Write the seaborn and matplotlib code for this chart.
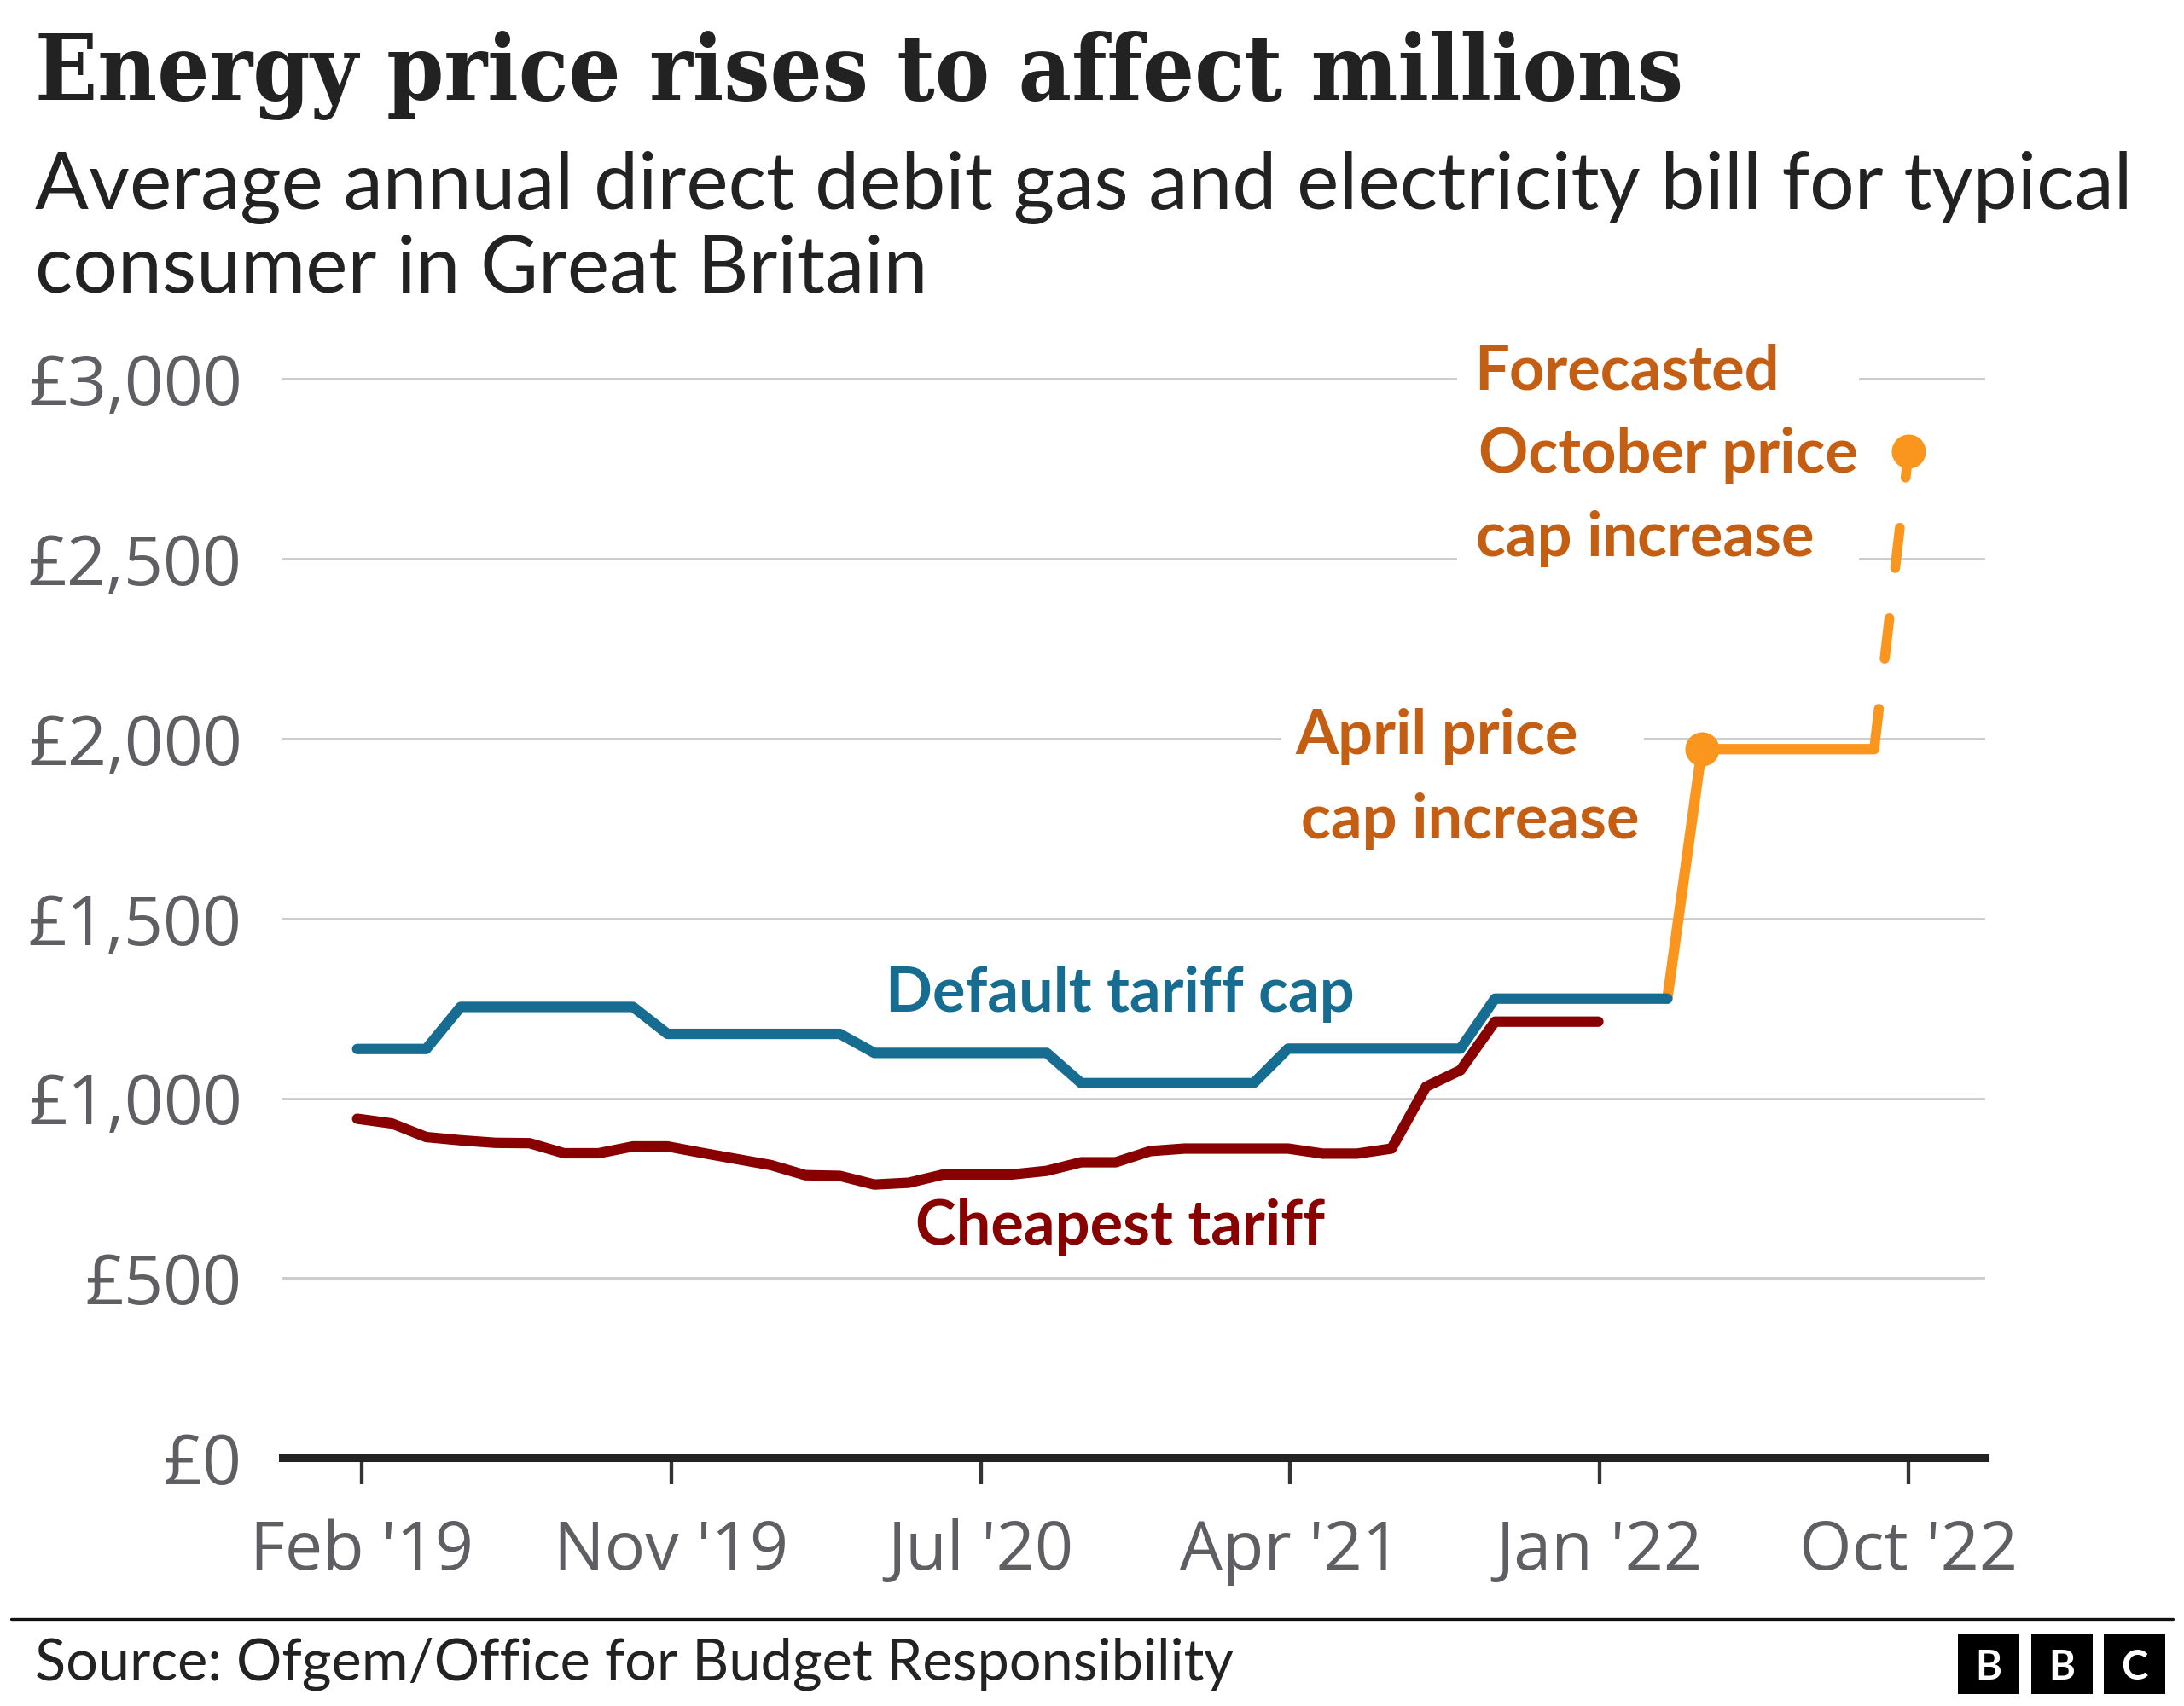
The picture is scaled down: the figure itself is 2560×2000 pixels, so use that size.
import numpy as np
import pandas as pd
import matplotlib
matplotlib.use("Agg")
import matplotlib.pyplot as plt
from matplotlib.patches import Rectangle
from matplotlib.lines import Line2D
import seaborn as sns

# ---------------- data ----------------
months = pd.date_range("2019-01-01", "2022-10-01", freq="MS")  # Jan 2019 .. Oct 2022

# Default tariff cap, Jan 2019 - Mar 2022
default_cap = [1137, 1137, 1137,
               1254, 1254, 1254, 1254, 1254, 1254,
               1179, 1179, 1179, 1179, 1179, 1179,
               1126, 1126, 1126, 1126, 1126, 1126,
               1042, 1042, 1042, 1042, 1042, 1042,
               1138, 1138, 1138, 1138, 1138, 1138,
               1277, 1277, 1277, 1277, 1277, 1277]

# Cheapest tariff, Jan 2019 - Jan 2022
cheapest = [943, 930, 892, 883, 876, 875, 847, 847, 866, 866,
            848, 831, 814, 786, 784, 760, 765, 788, 788, 788,
            798, 822, 822, 853, 860, 860, 860, 860, 846, 846,
            860, 1032, 1078, 1213, 1213, 1213, 1213]

# April price cap, Mar 2022 - Sep 2022
april_cap = [1277, 1971, 1971, 1971, 1971, 1971, 1971]
april_start = "2022-03-01"
# Forecasted October cap, Sep 2022 - Oct 2022
october_forecast = [1971, 2800]
october_start = "2022-09-01"
# Highlighted points
dot_months = ["2022-04-01", "2022-10-01"]
dot_values = [1971, 2800]

tick_labels = ["Feb '19", "Nov '19", "Jul '20", "Apr '21", "Jan '22", "Oct '22"]
y_ticks = [0, 500, 1000, 1500, 2000, 2500, 3000]

title = "Energy price rises to affect millions"
subtitle = ["Average annual direct debit gas and electricity bill for typical",
            "consumer in Great Britain"]
source = "Source: Ofgem/Office for Budget Responsibility"

# ---------------- styling ----------------
BLUE = "#176D91"
RED = "#880000"
ORANGE = "#FA961E"
ORANGE_TXT = "#C45E12"
GREY = "#5E5E63"
GRID = "#CBCBCB"
INK = "#222222"

sns.set_theme(style="white")
plt.rcParams["font.family"] = ["Open Sans", "DejaVu Sans"]

W, H = 2560, 2000
fig = plt.figure(figsize=(W / 100, H / 100), dpi=100)
fig.patch.set_facecolor("white")

ax_left, ax_right = 331, 2327
ax_bottom, ax_top = 1709, 402.35
ax = fig.add_axes([ax_left / W, 1 - ax_bottom / H,
                   (ax_right - ax_left) / W, (ax_bottom - ax_top) / H])

idx = {m: i for i, m in enumerate(months.strftime("%Y-%m-%d"))}

df_default = pd.DataFrame({"x": np.arange(len(default_cap)), "v": default_cap})
df_cheap = pd.DataFrame({"x": np.arange(len(cheapest)), "v": cheapest})
df_april = pd.DataFrame({"x": idx[april_start] + np.arange(len(april_cap)), "v": april_cap})
df_oct = pd.DataFrame({"x": idx[october_start] + np.arange(len(october_forecast)),
                       "v": october_forecast})
df_dots = pd.DataFrame({"x": [idx[m] for m in dot_months], "v": dot_values})

LW = 8.8
sns.lineplot(data=df_april, x="x", y="v", ax=ax, color=ORANGE, linewidth=LW,
             solid_capstyle="round", solid_joinstyle="round", zorder=3)
sns.lineplot(data=df_oct, x="x", y="v", ax=ax, color=ORANGE, linewidth=LW * 0.95,
             linestyle=(0, (4.1, 5.1)), dash_capstyle="round", zorder=3)
sns.lineplot(data=df_cheap, x="x", y="v", ax=ax, color=RED, linewidth=LW,
             solid_capstyle="round", solid_joinstyle="round", zorder=4)
sns.lineplot(data=df_default, x="x", y="v", ax=ax, color=BLUE, linewidth=LW,
             solid_capstyle="round", solid_joinstyle="round", zorder=4)
sns.scatterplot(data=df_dots, x="x", y="v", ax=ax, color=ORANGE, s=830,
                linewidth=0, zorder=6)

ax.set_xlim(-2.17, 47.22)
ax.set_ylim(0, 3100)
ax.set_xlabel("")
ax.set_ylabel("")

for s in ["left", "right", "top"]:
    ax.spines[s].set_visible(False)
ax.spines["bottom"].set_linewidth(6.5)
ax.spines["bottom"].set_color(INK)
ax.spines["bottom"].set_zorder(5)

ax.set_yticks(y_ticks)
ax.set_yticklabels([f"£{v:,}" for v in y_ticks])
ax.yaxis.grid(True, color=GRID, linewidth=2.0)
ax.xaxis.grid(False)
ax.set_axisbelow(True)
ax.tick_params(axis="y", length=0, pad=34, labelsize=58, labelcolor=GREY)

ax.set_xticks(np.linspace(0.14, 45.0, len(tick_labels)))
ax.set_xticklabels(tick_labels)
ax.tick_params(axis="x", length=22, width=3.1, color="#333333", pad=29,
               labelsize=57, labelcolor=GREY, bottom=True, direction="out")

# white masks behind the annotation blocks (hide grid lines)
ax.add_patch(Rectangle((31.9, 2440), 11.66, 620, facecolor="white",
                       edgecolor="none", zorder=1))
ax.add_patch(Rectangle((26.8, 1930), 10.51, 140, facecolor="white",
                       edgecolor="none", zorder=1))

lab = dict(family=["Lato", "DejaVu Sans"], weight="bold", size=52,
           va="baseline", ha="left", zorder=7)
ax.text(15.33, 1241, "Default tariff cap", color=BLUE, **lab)
ax.text(16.20, 592, "Cheapest tariff", color=RED, **lab)
ax.text(27.22, 1957, "April price", color=ORANGE_TXT, **lab)
ax.text(27.38, 1723, "cap increase", color=ORANGE_TXT, **lab)
ax.text(32.40, 2971, "Forecasted", color=ORANGE_TXT, **lab)
ax.text(32.53, 2740, "October price", color=ORANGE_TXT, **lab)
ax.text(32.45, 2507, "cap increase", color=ORANGE_TXT, **lab)

# ---------------- titles ----------------
fig.text(41 / W, 1 - 117 / H, title, family=["DejaVu Serif"], weight="bold",
         fontstretch="condensed", size=77, color=INK, va="baseline", ha="left")
fig.text(41 / W, 1 - 245 / H, subtitle[0], family=["Lato", "DejaVu Sans"],
         size=67, color=INK, va="baseline", ha="left")
fig.text(41 / W, 1 - 343 / H, subtitle[1], family=["Lato", "DejaVu Sans"],
         size=67, color=INK, va="baseline", ha="left")

# ---------------- footer ----------------
fig.add_artist(Line2D([13 / W, 2547 / W], [1 - 1898 / H] * 2, color="#111111",
                      linewidth=2.4, transform=fig.transFigure))
fig.text(41 / W, 1 - 1970 / H, source, family=["Lato", "DejaVu Sans"], size=48,
         color=INK, va="baseline", ha="left")
for i, letter in enumerate("BBC"):
    x0 = 2295 + i * 85.5
    fig.add_artist(Rectangle((x0 / W, 1 - 1986 / H), 72 / W, 70 / H,
                             transform=fig.transFigure, facecolor="black",
                             edgecolor="none"))
    fig.text((x0 + 36) / W, 1 - 1951 / H, letter, family=["Lato", "DejaVu Sans"],
             weight="bold", size=34, color="white", ha="center", va="center_baseline")

fig.savefig("out.png", dpi=100, facecolor="white")
